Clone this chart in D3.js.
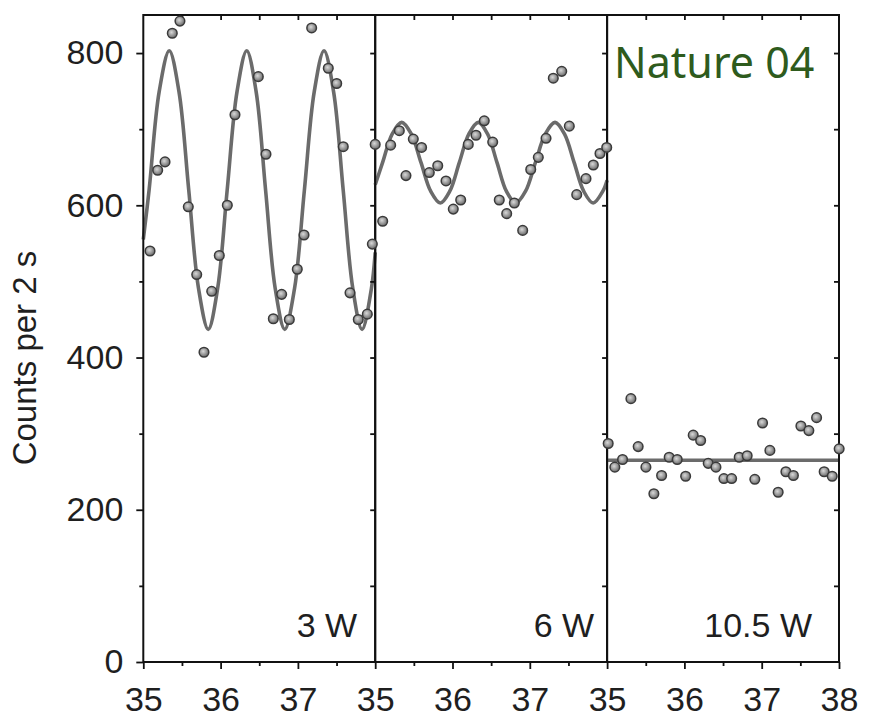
<!DOCTYPE html>
<html>
<head>
<meta charset="utf-8">
<script src="https://cdn.jsdelivr.net/npm/d3@7"></script>
<style>
  body { margin: 0; background: #fff; }
</style>
</head>
<body>
<div id="chart"></div>
<script>
// tick values and panel names
const panel_labels = ["3 W", "6 W", "10.5 W"];
const x_major = [35, 36, 37];
const x_minor = [35.5, 36.5, 37.5];
const y_major = [0, 200, 400, 600, 800];
const y_minor = [100, 300, 500, 700];

// measured counts [x, counts per 2 s]
const counts_3w = [
  [35.087, 540], [35.186, 646], [35.281, 657], [35.375, 826], [35.474, 842],
  [35.582, 598], [35.691, 509], [35.785, 407], [35.885, 487], [35.983, 534],
  [36.087, 600], [36.186, 719], [36.488, 769], [36.587, 667], [36.682, 451],
  [36.79, 483], [36.889, 450], [36.992, 516], [37.079, 561], [37.178, 833],
  [37.393, 780], [37.502, 760], [37.587, 677], [37.674, 485], [37.781, 450],
  [37.898, 457], [37.963, 549]
];
const counts_6w = [
  [35.0, 680], [35.097, 579], [35.2, 679], [35.312, 698], [35.398, 639],
  [35.493, 687], [35.6, 676], [35.7, 643], [35.809, 652], [35.916, 632],
  [36.01, 595], [36.106, 607], [36.204, 680], [36.304, 692], [36.411, 711],
  [36.52, 683], [36.605, 607], [36.701, 589], [36.8, 603], [36.908, 567],
  [37.012, 647], [37.11, 663], [37.21, 688], [37.304, 767], [37.413, 776],
  [37.511, 704], [37.607, 614], [37.727, 635], [37.822, 653], [37.908, 668],
  [37.995, 676]
];
const counts_10w = [
  [35.014, 287], [35.1, 256], [35.2, 266], [35.308, 346], [35.402, 283],
  [35.502, 256], [35.605, 221], [35.705, 245], [35.803, 269], [35.907, 266],
  [36.016, 244], [36.114, 298], [36.21, 291], [36.308, 261], [36.408, 256],
  [36.511, 241], [36.611, 241], [36.709, 269], [36.812, 271], [36.911, 240],
  [37.011, 314], [37.106, 278], [37.213, 223], [37.313, 250], [37.41, 245],
  [37.507, 310], [37.61, 304], [37.71, 321], [37.808, 250], [37.912, 244],
  [38.002, 280]
];

const fit_3w = [
  [35.0, 555], [35.075, 620], [35.205, 749], [35.336, 803], [35.462, 749],
  [35.588, 620], [35.714, 491], [35.84, 437], [35.962, 491], [36.085, 620],
  [36.212, 749], [36.338, 803], [36.46, 749], [36.582, 620], [36.706, 491],
  [36.83, 437], [36.957, 491], [37.084, 620], [37.211, 749], [37.338, 803],
  [37.462, 749], [37.586, 620], [37.71, 491], [37.83, 437], [37.95, 490],
  [38.0, 538]
];
const fit_6w = [
  [35.0, 627], [35.095, 656], [35.219, 693.5], [35.343, 709], [35.468, 693.5],
  [35.593, 656], [35.718, 618.5], [35.843, 603], [35.965, 618.5], [36.088, 656],
  [36.211, 693.5], [36.334, 709], [36.455, 693.5], [36.576, 656], [36.697, 618.5],
  [36.818, 603], [36.945, 618.5], [37.072, 656], [37.199, 693.5], [37.326, 709],
  [37.45, 693.5], [37.574, 656], [37.697, 618.5], [37.82, 603], [37.945, 618.5],
  [38.0, 633]
];
const fit_10w = [[35, 265], [38, 265]];

const panels = [
  { label: panel_labels[0], counts: counts_3w, fit: fit_3w },
  { label: panel_labels[1], counts: counts_6w, fit: fit_6w },
  { label: panel_labels[2], counts: counts_10w, fit: fit_10w },
];

// layout
const width = 871;
const height = 721;
const plot_left = 143.3;
const plot_right = 839;
const plot_top = 15;
const plot_bottom = 662;
const panel_width = (plot_right - plot_left) / 3;
const label_inset = [18, 13, 27];
const font = '"Liberation Sans", Arial, Helvetica, sans-serif';
const ink = "#111";

let svg = d3
  .select("#chart")
  .append("svg")
  .attr("width", width)
  .attr("height", height)
  .style("display", "block");

// shaded ball for the data points
let grad = svg
  .append("defs")
  .append("radialGradient")
  .attr("id", "ball")
  .attr("cx", "42%")
  .attr("cy", "40%")
  .attr("r", "60%");
grad.append("stop").attr("offset", "0%").attr("stop-color", "#d8d8d8");
grad.append("stop").attr("offset", "55%").attr("stop-color", "#9c9c9c");
grad.append("stop").attr("offset", "100%").attr("stop-color", "#6a6a6a");

let y = d3.scaleLinear().domain([0, 850]).range([plot_bottom, plot_top]);

function styleAxis(g) {
  g.select(".domain").remove();
  g.attr("color", ink);
  g.selectAll("line").attr("stroke-width", 1.8);
  g.selectAll("text")
    .attr("font-family", font)
    .attr("font-size", 34)
    .attr("fill", "#1f1f1f");
}

let x_scales = [];

panels.forEach((p, i) => {
  let x0 = plot_left + i * panel_width;
  let x = d3
    .scaleLinear()
    .domain([35, 38])
    .range([x0, x0 + panel_width]);
  x_scales.push(x);
  let g = svg.append("g").attr("class", "panel");

  // fitted curve
  g.append("path")
    .datum(p.fit)
    .attr("fill", "none")
    .attr("stroke", "#6b6b6b")
    .attr("stroke-width", 3.6)
    .attr(
      "d",
      d3
        .line()
        .x((d) => x(d[0]))
        .y((d) => y(d[1]))
        .curve(d3.curveCatmullRom.alpha(0.5))
    );

  // bottom axis, major with labels + minor
  let majors = i === 2 ? x_major.concat([38]) : x_major;
  g.append("g")
    .attr("transform", `translate(0,${plot_bottom})`)
    .call(
      d3
        .axisBottom(x)
        .tickValues(majors)
        .tickFormat(d3.format("d"))
        .tickSize(7)
        .tickPadding(18)
        .tickSizeOuter(0)
    )
    .call(styleAxis);
  g.append("g")
    .attr("transform", `translate(0,${plot_bottom})`)
    .call(
      d3.axisBottom(x).tickValues(x_minor).tickFormat("").tickSize(4).tickSizeOuter(0)
    )
    .call(styleAxis);

  // top ticks point inward
  g.append("g")
    .attr("transform", `translate(0,${plot_top})`)
    .call(
      d3
        .axisTop(x)
        .tickValues(x_major.slice(1).concat(x_minor))
        .tickFormat("")
        .tickSize(-5)
        .tickSizeOuter(0)
    )
    .call(styleAxis);

  // right edge ticks point inward
  g.append("g")
    .attr("transform", `translate(${x0 + panel_width},0)`)
    .call(
      d3
        .axisRight(y)
        .tickValues(y_major.slice(1).concat(y_minor))
        .tickFormat("")
        .tickSize(-5)
        .tickSizeOuter(0)
    )
    .call(styleAxis);

  // frame
  g.append("rect")
    .attr("x", x0)
    .attr("y", plot_top)
    .attr("width", panel_width)
    .attr("height", plot_bottom - plot_top)
    .attr("fill", "none")
    .attr("stroke", ink)
    .attr("stroke-width", 2);

  // power label
  g.append("text")
    .attr("x", x0 + panel_width - label_inset[i])
    .attr("y", 637)
    .attr("text-anchor", "end")
    .attr("font-family", font)
    .attr("font-size", 34)
    .attr("fill", "#1f1f1f")
    .text(p.label);
});

// left axis
svg
  .append("g")
  .attr("transform", `translate(${plot_left},0)`)
  .call(
    d3.axisLeft(y).tickValues(y_major).tickSize(7).tickPadding(13).tickSizeOuter(0)
  )
  .call(styleAxis);
svg
  .append("g")
  .attr("transform", `translate(${plot_left},0)`)
  .call(d3.axisLeft(y).tickValues(y_minor).tickFormat("").tickSize(4).tickSizeOuter(0))
  .call(styleAxis);

// axis title
svg
  .append("text")
  .attr("transform", "translate(36,358) rotate(-90)")
  .attr("text-anchor", "middle")
  .attr("font-family", font)
  .attr("font-size", 33)
  .attr("fill", "#1f1f1f")
  .text("Counts per 2 s");

// data points on top of frames
panels.forEach((p, i) => {
  let x = x_scales[i];
  svg
    .append("g")
    .selectAll("circle")
    .data(p.counts)
    .enter()
    .append("circle")
    .attr("cx", (d) => x(d[0]))
    .attr("cy", (d) => y(d[1]))
    .attr("r", 4.8)
    .attr("fill", "url(#ball)")
    .attr("stroke", "#3a3a3a")
    .attr("stroke-width", 1.5);
});

// caption
svg
  .append("text")
  .attr("x", 614)
  .attr("y", 78)
  .attr("font-family", '"Noto Sans", "Open Sans", sans-serif')
  .attr("font-size", 43)
  .attr("fill", "#2e5b1d")
  .text("Nature 04");
</script>
</body>
</html>
